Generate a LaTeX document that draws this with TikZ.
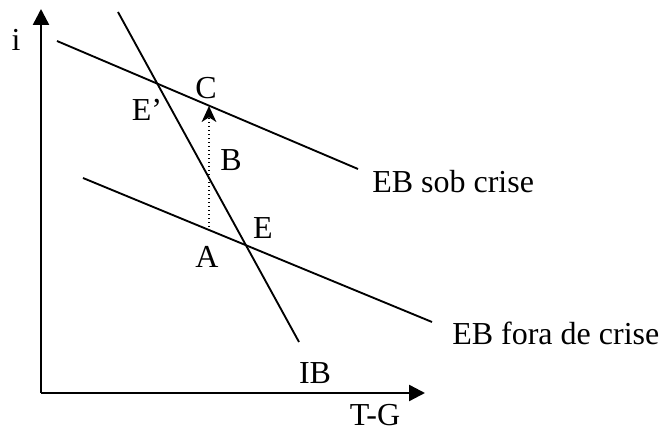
\documentclass[tikz,border=0pt]{standalone}
\usepackage{fontspec}
\setmainfont{Liberation Serif}
\usepackage{tikz}
\usetikzlibrary{arrows.meta,positioning}

\begin{document}
\begin{tikzpicture}[x=0.75pt,y=-0.75pt,>=Latex,
  curve/.style={line width=1.4pt},
  axis/.style={line width=1.8pt,-{Triangle[length=12pt,width=12pt]}},
  lbl/.style={inner sep=0pt,font=\fontsize{24}{28}\selectfont}]
\useasboundingbox (0,0) rectangle (661,434);
% axes
\coordinate (o) at (41,393);
\coordinate (ytip) at (41,9);
\coordinate (xtip) at (425,393);
\draw[axis] (o)--(ytip);
\draw[axis] (o)--(xtip);
% curves
\coordinate (ebs1) at (57,41);  \coordinate (ebs2) at (358,169);
\coordinate (ebf1) at (83,178); \coordinate (ebf2) at (432,322);
\coordinate (ib1) at (118,12);  \coordinate (ib2) at (299,342);
\draw[curve] (ebs1)--(ebs2);
\draw[curve] (ebf1)--(ebf2);
\draw[curve] (ib1)--(ib2);
% shift from A to C
\coordinate (pa) at (209,227);
\coordinate (pc) at (209,106);
\draw[line width=1pt,dotted,-{Stealth[length=12pt,width=11pt,inset=3.5pt]}] (pa)--(pc);
% labels
\node[lbl] (li) at (16,40) {i};
\node[lbl] (lc) at (206,88) {C};
\node[lbl] (le') at (147,110) {E’};
\node[lbl] (lb) at (231,160) {B};
\node[lbl] (la) at (207,257) {A};
\node[lbl] (le) at (263,228) {E};
\node[lbl] (lib) at (315,373) {IB};
\node[lbl] (ltg) at (375,415) {T-G};
\node[lbl,anchor=west] (lebs) at (372,182) {EB sob crise};
\node[lbl,anchor=west] (lebf) at (452,333) {EB fora de crise};
\end{tikzpicture}
\end{document}
